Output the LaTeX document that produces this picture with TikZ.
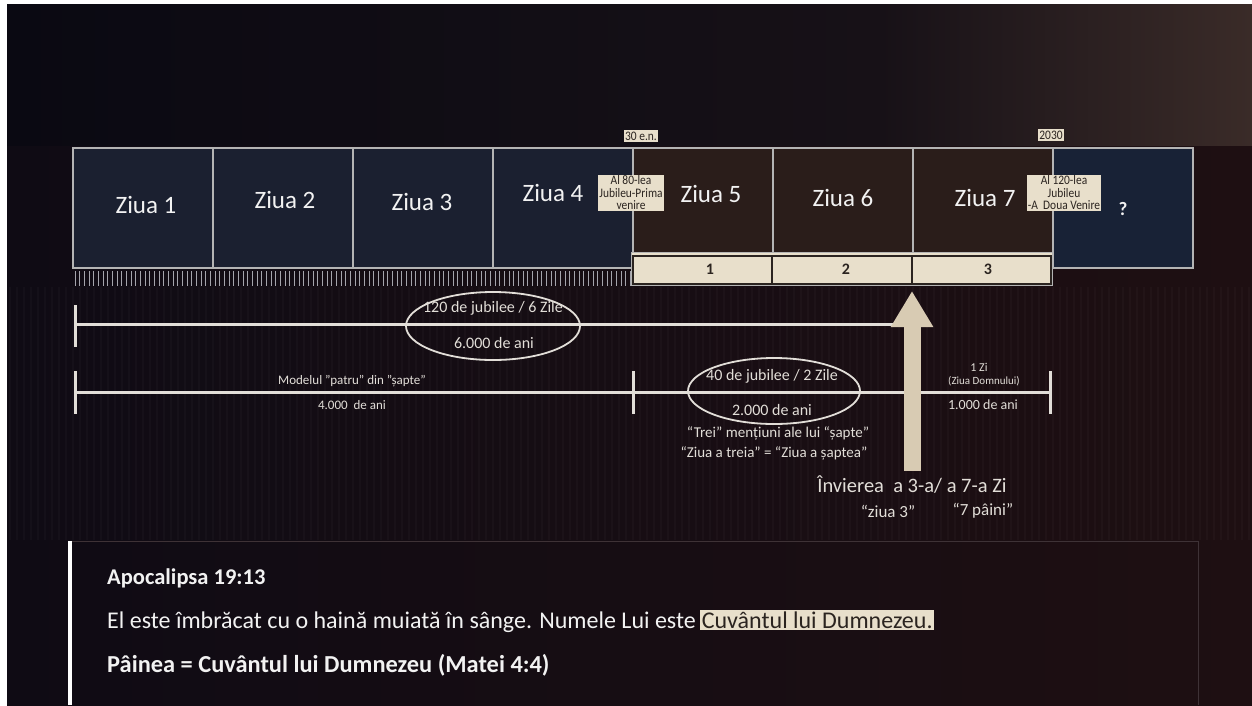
\documentclass[tikz,border=0pt]{standalone}
\usepackage{fontspec}
\setmainfont{Carlito}
\usetikzlibrary{positioning,shapes.geometric,arrows.meta}

\definecolor{bgdark}{HTML}{150D13}
\definecolor{bgleft}{HTML}{0A0912}
\definecolor{bgmid}{HTML}{171117}
\definecolor{bgright}{HTML}{3A2B28}
\definecolor{lowleft}{HTML}{0F0B14}
\definecolor{lowright}{HTML}{1E0F12}
\definecolor{slatefill}{HTML}{1B2030}
\definecolor{brownfill}{HTML}{2A1D1A}
\definecolor{navyfill}{HTML}{182236}
\definecolor{framegray}{HTML}{B4B4B4}
\definecolor{tickgray}{HTML}{A4A4AC}
\definecolor{tagbeige}{HTML}{E8DFCB}
\definecolor{tagdark}{HTML}{2B2420}
\definecolor{upbeige}{HTML}{D8CBB3}
\definecolor{textwhite}{HTML}{F2F2F2}
\definecolor{softwhite}{HTML}{E2DED8}
\definecolor{panelline}{HTML}{3E3236}

\newcommand{\narrow}[1]{\scalebox{0.88}[1]{#1}}

\begin{document}
\begin{tikzpicture}[x=1pt, y=-1pt,
  daybox/.style={draw=framegray, line width=1.5pt, minimum width=140pt, minimum height=120pt, inner sep=0pt},
  daytext/.style={text=textwhite, font=\fontsize{25}{30}\selectfont},
  tagbox/.style={fill=tagbeige, text=tagdark, inner xsep=1pt, inner ysep=1pt, align=center, font=\fontsize{13}{12.5}\selectfont},
  midtext/.style={text=softwhite, font=\fontsize{#1}{#1}\selectfont},
  midtext/.default=16,
  bar/.style={draw=softwhite, line width=3pt},
  ring/.style={ellipse, draw=softwhite, line width=1.8pt, inner sep=0pt},
  cellnum/.style={text=tagdark, font=\fontsize{16}{16}\selectfont\bfseries},
  versetext/.style={text=textwhite, anchor=base west, inner sep=0pt, font=\fontsize{24}{28}\selectfont},
]
  \useasboundingbox (0,0) rectangle (1252,705);

  % Background
  \fill[white] (0,0) rectangle (1252,705);
  \fill[bgdark] (7,4) rectangle (1252,705);
  \shade[left color=bgleft, right color=bgmid] (7,4) rectangle (880,146);
  \shade[left color=bgmid, right color=bgright] (880,4) rectangle (1252,146);
  \shade[left color=lowleft, right color=lowright] (7,146) rectangle (1252,705);
  \foreach \x in {10,17,...,1250}
    \draw[white, opacity=0.025, line width=2pt] (\x,287) -- (\x,540);

  % Ruler under the first four days
  \foreach \i in {0,...,119}
    \draw[tickgray, line width=1pt] ({75+\i*4.667},271) -- ++(0,15);

  % Days
  \node (d1) at (143,208) [daybox, fill=slatefill] {};
  \node (d2) at (283,208) [daybox, fill=slatefill] {};
  \node (d3) at (423,208) [daybox, fill=slatefill] {};
  \node (d4) at (563,208) [daybox, fill=slatefill] {};
  \node (d5) at (703,208) [daybox, fill=brownfill] {};
  \node (d6) at (843,208) [daybox, fill=brownfill] {};
  \node (d7) at (983,208) [daybox, fill=brownfill] {};
  \node (d8) at (1123,208) [daybox, fill=navyfill] {};

  \node (z1) at (146,205) [daytext] {Ziua 1};
  \node (z2) at (285,200) [daytext] {Ziua 2};
  \node (z3) at (422,202) [daytext] {Ziua 3};
  \node (z4) at (553,193) [daytext] {Ziua 4};
  \node (z5) at (711,194) [daytext] {Ziua 5};
  \node (z6) at (843,198) [daytext] {Ziua 6};
  \node (z7) at (985,198) [daytext] {Ziua 7};
  \node (qm) at (1123,209) [text=textwhite, font=\fontsize{19}{19}\selectfont\bfseries] {?};

  % Three days bar
  \node (tri) at (842,269) [fill=tagbeige, draw=framegray, line width=1pt, minimum width=421pt, minimum height=33pt] {};
  \draw[tagdark, line width=1.5pt] (633,256) rectangle (1051,284);
  \draw[tagdark, line width=1.5pt] (772,256) -- (772,284);
  \draw[tagdark, line width=1.5pt] (912,256) -- (912,284);
  \node (n1) at (710,269) [cellnum] {1};
  \node (n2) at (846,269) [cellnum] {2};
  \node (n3) at (988,269) [cellnum] {3};

  % Tags
  \node (yr30) at (641,136) [tagbox, inner ysep=1.5pt] {\narrow{30 e.n.}};
  \node (yr2030) at (1051,135) [tagbox, inner ysep=1.5pt] {\narrow{2030}};
  \node (j80) at (631,193) [tagbox] {\narrow{Al 80-lea}\\\narrow{Jubileu-Prima}\\\narrow{venire}};
  \node (j120) at (1064,193) [tagbox] {\narrow{Al 120-lea}\\\narrow{Jubileu}\\\narrow{-A\ \ Doua Venire}};

  % Spans
  \coordinate (s1a) at (75,324);
  \coordinate (s1b) at (912,324);
  \draw[bar] (s1a) -- (s1b);
  \draw[bar] (75,305) -- (75,347);

  \coordinate (s2a) at (75,392);
  \coordinate (s2m) at (633,392);
  \coordinate (s2b) at (1050,392);
  \draw[bar] (s2a) -- (s2m) -- (s2b);
  \draw[bar] (75,371) -- (75,414);
  \draw[bar] (633,371) -- (633,414);
  \draw[bar] (1050,371) -- (1050,414);

  \node (e6) at (493,326) [ring, minimum width=174pt, minimum height=68pt] {};
  \node (e2) at (774,391) [ring, minimum width=172pt, minimum height=66pt] {};

  \node (l6a) at (493,308) [midtext] {120 de jubilee / 6 Zile};
  \node (l6b) at (494,343) [midtext] {6.000 de ani};
  \node (l4a) at (352,381) [midtext=13] {Modelul "patru" din "șapte"};
  \node (l4b) at (352,405) [midtext=13] {4.000\ \ de ani};
  \node (l2a) at (772,376) [midtext] {40 de jubilee / 2 Zile};
  \node (l2b) at (772,410) [midtext] {2.000 de ani};
  \node (l2c) at (778,433) [midtext=15] {“Trei” mențiuni ale lui “șapte”};
  \node (l2d) at (774,453) [midtext=15] {“Ziua a treia” = “Ziua a șaptea”};
  \node (l1a) at (979,367) [midtext=12] {1 Zi};
  \node (l1b) at (984,381) [midtext=11] {(Ziua Domnului)};
  \node (l1c) at (983,405) [midtext=14] {1.000 de ani};

  % Rising arrow
  \coordinate (rise0) at (912,471);
  \coordinate (rise1) at (912,291);
  \draw[upbeige, line width=17pt, -{Triangle[width=40pt, length=36pt]}] (rise0) -- (rise1);

  \node (inv) at (912,485) [midtext=20.5] {Învierea\ \ a 3-a/ a 7-a Zi};
  \node (zi3) at (888,511) [midtext=17] {“ziua 3”};
  \node (pai) at (983,511) [midtext=17] {“7 pâini”};

  % Verse panel
  \draw[panelline, line width=1pt] (70,541) -- (1198,541) -- (1198,705);
  \fill[white] (68,541) rectangle (72,705);
  \node (ref) at (107,584) [versetext, font=\fontsize{22.5}{27}\selectfont\bfseries] {Apocalipsa 19:13};
  \node (verse) at (107,628) [versetext] {El este îmbrăcat cu o haină muiată în sânge. Numele Lui este};
  \node (hl) at ([xshift=4pt]verse.base east) [versetext, fill=tagbeige, text=tagdark, inner sep=1.5pt] {Cuvântul lui Dumnezeu.};
  \node (bread) at (107,672) [versetext, font=\fontsize{24.4}{28}\selectfont\bfseries] {Pâinea = Cuvântul lui Dumnezeu (Matei 4:4)};
\end{tikzpicture}
\end{document}
